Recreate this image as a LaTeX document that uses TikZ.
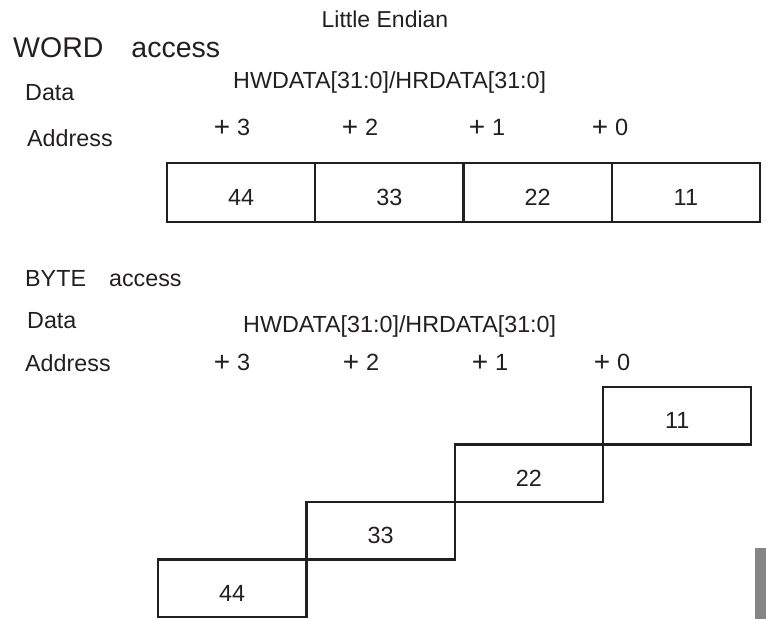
\documentclass[tikz,border=0pt]{standalone}
\usepackage{fontspec}
\setmainfont{Liberation Sans}
\usepackage{tikz}
\usetikzlibrary{positioning}
\definecolor{ink}{HTML}{231F20}
\definecolor{bargray}{HTML}{858585}
\newcommand{\bigplus}{\raisebox{-1.5pt}{\fontsize{28}{28}\selectfont +}}

\begin{document}
\begin{tikzpicture}[x=1pt, y=-1pt, every node/.style={text=ink},
  txt/.style={inner sep=0pt, anchor=base west, font=\fontsize{23.3}{28}\selectfont},
  big/.style={txt, font=\fontsize{28.5}{34}\selectfont},
  ofs/.style={inner sep=0pt, anchor=base, font=\fontsize{23.5}{28}\selectfont},
  cell/.style={draw=ink, line width=2.2pt, inner sep=0pt, outer sep=0pt,
               minimum width=148.25pt, minimum height=59pt,
               text height=26pt, text depth=0pt, font=\fontsize{23.4}{28}\selectfont},
  bcell/.style={cell, minimum width=148.3pt, minimum height=57.5pt}]
\useasboundingbox (0,0) rectangle (766,619);
\node[ofs, font=\fontsize{23}{27}\selectfont] (title) at (385,27) {Little Endian};
% word access
\node[big] (word) at (13,57) {WORD\hspace{28pt}access};
\node[txt] (wdata) at (25,100) {Data};
\node[txt] (wbus) at (233,88) {HWDATA[31:0]/HRDATA[31:0]};
\node[txt] (waddr) at (27,146) {Address};
\foreach \a/\x in {3/232,2/360,1/487,0/610}
  \node[ofs] (wo\a) at (\x,135) {\bigplus\hspace{7pt}\a};
\node[cell, anchor=north west] (w44) at (167,163) {44};
\node[cell, right=0pt of w44] (w33) {33};
\node[cell, right=0pt of w33] (w22) {22};
\node[cell, right=0pt of w22] (w11) {11};
% byte access
\node[txt] (byte) at (25,286) {BYTE\hspace{23pt}access};
\node[txt] (bdata) at (27,328) {Data};
\node[txt] (bbus) at (243,332) {HWDATA[31:0]/HRDATA[31:0]};
\node[txt] (baddr) at (25,371) {Address};
\foreach \a/\x in {3/232,2/361,1/490,0/612}
  \node[ofs] (bo\a) at (\x,370) {\bigplus\hspace{7pt}\a};
\node[bcell, anchor=north west] (b11) at (603,387) {11};
\node[bcell, below left=0pt and 0pt of b11] (b22) {22};
\node[bcell, below left=0pt and 0pt of b22] (b33) {33};
\node[bcell, below left=0pt and 0pt of b33] (b44) {44};
\fill[bargray] (755,548) rectangle (766,619);
\end{tikzpicture}
\end{document}
